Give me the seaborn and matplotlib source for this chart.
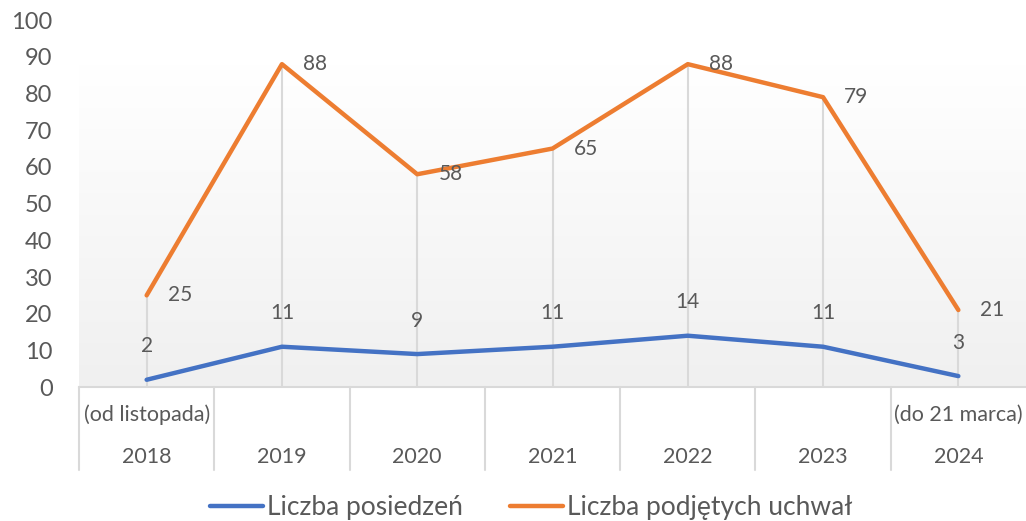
import matplotlib
matplotlib.use("Agg")
import matplotlib.pyplot as plt
import matplotlib.transforms as mtransforms
from matplotlib.colors import LinearSegmentedColormap
from matplotlib.lines import Line2D
import numpy as np
import pandas as pd
import seaborn as sns

# Data
YEARS = ["2018", "2019", "2020", "2021", "2022", "2023", "2024"]
SUBLABELS = ["(od listopada)", "", "", "", "", "", "(do 21 marca)"]
POSIEDZENIA = [2, 11, 9, 11, 14, 11, 3]
UCHWALY = [25, 88, 58, 65, 88, 79, 21]
SERIES = ["Liczba posiedzeń", "Liczba podjętych uchwał"]
COLORS = ["#4472C4", "#ED7D31"]

TEXT = "#595959"
GRID = "#D9D9D9"

sns.set_theme(style="white")
plt.rcParams["font.family"] = ["Lato", "DejaVu Sans"]

df = pd.DataFrame({
    "x": list(range(len(YEARS))) * 2,
    "value": POSIEDZENIA + UCHWALY,
    "series": [SERIES[0]] * len(YEARS) + [SERIES[1]] * len(YEARS),
})

fig = plt.figure(figsize=(10.26, 5.21), dpi=100)
ax = fig.add_axes([0.077, 0.257, 0.923, 0.7044])

# gradient background (white at top -> light gray at bottom)
cmap = LinearSegmentedColormap.from_list("bg", ["#F0F0F0", "#FFFFFF"])
grad = np.linspace(0, 1, 256).reshape(-1, 1)
ax.imshow(grad, extent=(-0.5, 6.5, 0, 88), origin="lower", aspect="auto",
          cmap=cmap, zorder=0)

# drop lines
tops = [max(a, b) for a, b in zip(POSIEDZENIA, UCHWALY)]
ax.vlines(range(len(YEARS)), 0, tops, color=GRID, lw=1.5, zorder=1)

sns.lineplot(data=df, x="x", y="value", hue="series", palette=COLORS,
             linewidth=3.2, ax=ax, legend=False, zorder=3)

# data labels
for i, v in enumerate(POSIEDZENIA):
    ax.annotate(str(v), (i, v), xytext=(0, 24), textcoords="offset points",
                ha="center", va="center", fontsize=15, color=TEXT)
for i, v in enumerate(UCHWALY):
    ax.annotate(str(v), (i, v), xytext=(24, 0), textcoords="offset points",
                ha="center", va="center", fontsize=15, color=TEXT)

ax.set_xlim(-0.5, 6.5)
ax.set_ylim(0, 100)
ax.set_yticks(range(0, 101, 10))
ax.tick_params(axis="y", length=0, pad=19, labelsize=17, labelcolor=TEXT)
ax.set_xticks([])
ax.set_xlabel("")
ax.set_ylabel("")
for s in ["top", "right", "left"]:
    ax.spines[s].set_visible(False)
ax.spines["bottom"].set_color(GRID)
ax.spines["bottom"].set_linewidth(1.5)
ax.set_facecolor("white")

# multi-level category axis
trans = mtransforms.blended_transform_factory(ax.transData, ax.transAxes)
for i in range(len(YEARS)):
    ax.text(i, -0.19, YEARS[i], transform=trans, ha="center", va="center",
            fontsize=15.5, color=TEXT)
    if SUBLABELS[i]:
        ax.text(i, -0.075, SUBLABELS[i], transform=trans, ha="center",
                va="center", fontsize=15.5, color=TEXT)
for b in np.arange(-0.5, len(YEARS) - 0.5, 1.0):
    ax.plot([b, b], [0, -0.226], transform=trans, color=GRID, lw=1.5,
            clip_on=False)

# legend
handles = [Line2D([0], [0], color=c, lw=3.2) for c in COLORS]
fig.legend(handles, SERIES, loc="center", bbox_to_anchor=(0.518, 0.025),
           ncol=2, frameon=False, fontsize=19, labelcolor=TEXT,
           handlelength=2.0, handletextpad=0.15, columnspacing=1.8)

fig.savefig("out.png", dpi=100)
